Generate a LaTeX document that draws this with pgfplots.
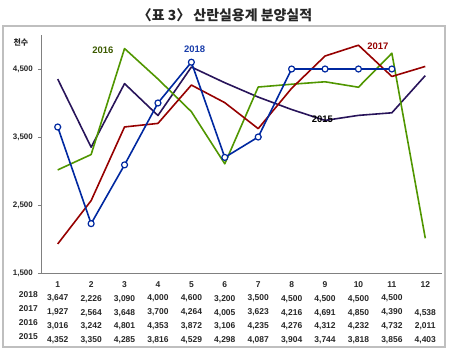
\documentclass[border=0pt]{standalone}
\usepackage{fontspec}
\setmainfont{Liberation Sans}
\newfontfamily\kr{Noto Sans CJK KR}
\usepackage{pgfplots}
\pgfplotsset{compat=1.18}
\definecolor{c18}{RGB}{0,40,160}
\definecolor{c17}{RGB}{150,0,0}
\definecolor{c16}{RGB}{80,150,0}
\definecolor{c15}{RGB}{40,20,90}
\definecolor{t16}{RGB}{60,90,0}
\begin{document}
\begin{tikzpicture}
\useasboundingbox (-41bp,-81bp) rectangle (409bp,273bp);
\draw[gray!50, line width=1.2bp] (-38bp,-74bp) rectangle (404bp,247bp);
\node[font={\kr\bfseries\fontsize{14}{16}\selectfont}, text=black!85] at (184bp,258bp) {〈표 3〉 산란실용계 분양실적};
\node[font={\kr\bfseries\fontsize{8}{9}\selectfont}, text=black!85] at (-20bp,230bp) {천수};
\begin{axis}[at={(0bp,0bp)}, anchor=south west, scale only axis,
  width=401bp, height=238bp,
  xmin=0.5, xmax=12.5, ymin=1500, ymax=5000,
  axis x line=bottom, axis y line=left,
  axis line style={-, gray, line width=0.8bp},
  ytick={1500,2500,3500,4500},
  xtick={1,2,3,4,5,6,7,8,9,10,11,12},
  xtick style={draw=none},
  ytick style={gray, line width=0.6bp},
  tick align=outside, major tick length=3bp,
  /pgf/number format/.cd, 1000 sep={,}, assume math mode=true,
  /pgfplots/.cd,
  yticklabel style={font={\bfseries\fontsize{8}{9}\selectfont}, text=black!85, inner sep=0pt, xshift=-5bp},
  xticklabel style={font={\bfseries\fontsize{8.5}{14}\selectfont}, text=black!85, align=center, anchor=north, inner sep=0pt, yshift=-5bp},
  xticklabels={
    {1\\3,647\\1,927\\3,016\\4,352},
    {2\\2,226\\2,564\\3,242\\3,350},
    {3\\3,090\\3,648\\4,801\\4,285},
    {4\\4,000\\3,700\\4,353\\3,816},
    {5\\4,600\\4,264\\3,872\\4,529},
    {6\\3,200\\4,005\\3,106\\4,298},
    {7\\3,500\\3,623\\4,235\\4,087},
    {8\\4,500\\4,216\\4,276\\3,904},
    {9\\4,500\\4,691\\4,312\\3,744},
    {10\\4,500\\4,850\\4,232\\3,818},
    {11\\4,500\\4,390\\4,732\\3,856},
    {12\\\phantom{0}\\4,538\\2,011\\4,403}},
  clip=false,
  every axis plot/.append style={line width=1.6bp, line join=round},
]
\addplot[c15, mark=none] coordinates {(1,4352)(2,3350)(3,4285)(4,3816)(5,4529)(6,4298)(7,4087)(8,3904)(9,3744)(10,3818)(11,3856)(12,4403)};
\addplot[c16, mark=none] coordinates {(1,3016)(2,3242)(3,4801)(4,4353)(5,3872)(6,3106)(7,4235)(8,4276)(9,4312)(10,4232)(11,4732)(12,2011)};
\addplot[c17, mark=none] coordinates {(1,1927)(2,2564)(3,3648)(4,3700)(5,4264)(6,4005)(7,3623)(8,4216)(9,4691)(10,4850)(11,4390)(12,4538)};
\addplot[c18, mark=*, mark size=3bp, mark options={fill=white, draw=c18, line width=1.2bp}] coordinates {(1,3647)(2,2226)(3,3090)(4,4000)(5,4600)(6,3200)(7,3500)(8,4500)(9,4500)(10,4500)(11,4500)};
\node[font={\bfseries\fontsize{9.5}{10}\selectfont}, text=t16] at (axis cs:2.35,4779) {2016};
\node[font={\bfseries\fontsize{9.5}{10}\selectfont}, text=c18!90!white] at (axis cs:5.10,4794) {2018};
\node[font={\bfseries\fontsize{9.5}{10}\selectfont}, text=c17] at (axis cs:10.58,4838) {2017};
\node[font={\bfseries\fontsize{9.5}{10}\selectfont}, text=black] at (axis cs:8.92,3765) {2015};
\end{axis}
\node[font={\bfseries\fontsize{8.5}{14}\selectfont}, text=black!85, align=right, anchor=north east, inner sep=0pt] at (-3bp,-5bp) {\phantom{1}\\2018\\2017\\2016\\2015};
\end{tikzpicture}
\end{document}
